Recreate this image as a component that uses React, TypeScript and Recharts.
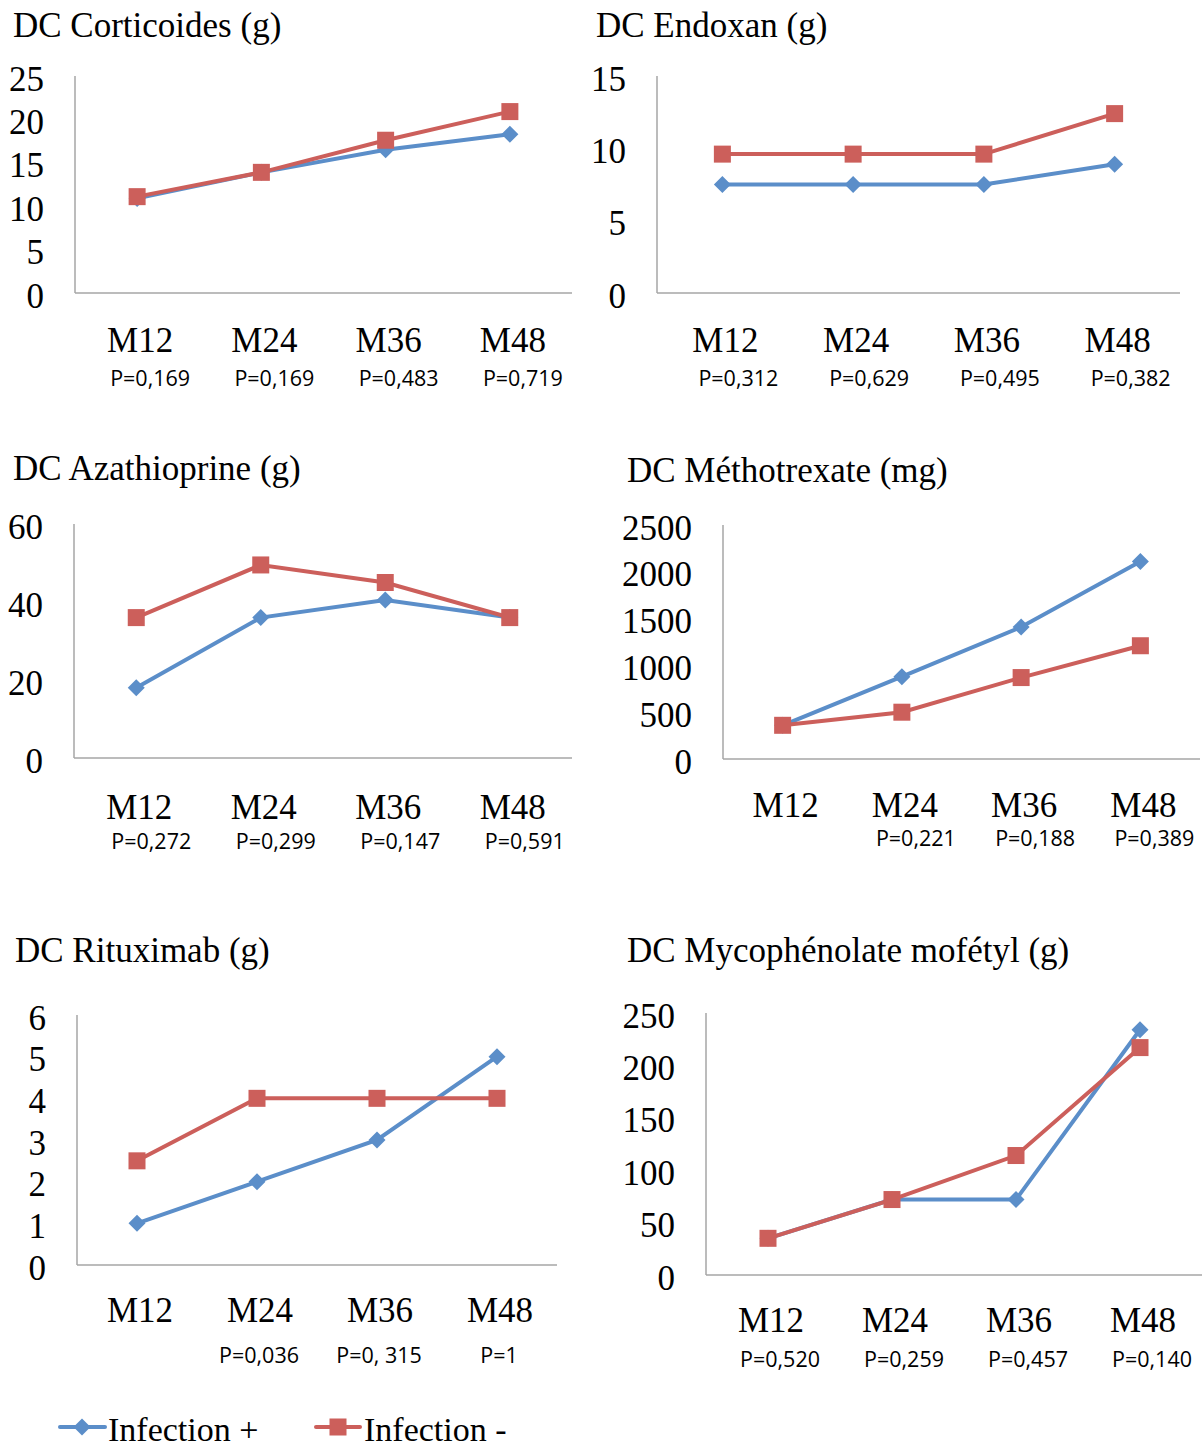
import React from "react";
import { LineChart, Line, XAxis, YAxis } from "recharts";

// shared categories
const months = ["M12", "M24", "M36", "M48"];

// DC Corticoides (g)
const cortPos = [10.9, 13.9, 16.5, 18.3];
const cortNeg = [11.1, 13.9, 17.6, 20.9];
const cortP = ["P=0,169", "P=0,169", "P=0,483", "P=0,719"];
const cortTicks = [0, 5, 10, 15, 20, 25];

// DC Endoxan (g)
const endoPos = [7.5, 7.5, 7.5, 8.9];
const endoNeg = [9.6, 9.6, 9.6, 12.4];
const endoP = ["P=0,312", "P=0,629", "P=0,495", "P=0,382"];
const endoTicks = [0, 5, 10, 15];

// DC Azathioprine (g)
const azaPos = [18, 36, 40.5, 36];
const azaNeg = [36, 49.5, 45, 36];
const azaP = ["P=0,272", "P=0,299", "P=0,147", "P=0,591"];
const azaTicks = [0, 20, 40, 60];

// DC Méthotrexate (mg)
const mtxPos = [360, 880, 1410, 2110];
const mtxNeg = [360, 500, 870, 1210];
const mtxP = ["", "P=0,221", "P=0,188", "P=0,389"];
const mtxTicks = [0, 500, 1000, 1500, 2000, 2500];

// DC Rituximab (g)
const rtxPos = [1, 2, 3, 5];
const rtxNeg = [2.5, 4, 4, 4];
const rtxP = ["", "P=0,036", "P=0, 315", "P=1"];
const rtxTicks = [0, 1, 2, 3, 4, 5, 6];

// DC Mycophénolate mofétyl (g)
const mmfPos = [35, 72, 72, 234];
const mmfNeg = [35, 72, 114, 217];
const mmfP = ["P=0,520", "P=0,259", "P=0,457", "P=0,140"];
const mmfTicks = [0, 50, 100, 150, 200, 250];

const seriesNames = ["Infection +", "Infection -"];

const BLUE = "#5b8ec9";
const RED = "#cc5f5b";
const AXIS = "#a6a6a6";
const SERIF = '"Liberation Serif", "Times New Roman", serif';
const SANS = '"Open Sans", "Liberation Sans", sans-serif';
const FS = 35;

function Diamond(props: any) {
  const { cx, cy, index } = props;
  if (cx == null || cy == null) return null;
  const r = 8.5;
  return (
    <path
      key={`dia-${index}`}
      d={`M${cx},${cy - r}L${cx + r},${cy}L${cx},${cy + r}L${cx - r},${cy}Z`}
      fill={BLUE}
    />
  );
}

function Square(props: any) {
  const { cx, cy, index } = props;
  if (cx == null || cy == null) return null;
  const s = 17;
  return <rect key={`sq-${index}`} x={cx - s / 2} y={cy - s / 2} width={s} height={s} fill={RED} />;
}

const panels = [
  { title: "DC Corticoides (g)", pos: cortPos, neg: cortNeg, pv: cortP, ticks: cortTicks,
    left: 0, x0: 75, y0: 76, x1: 572, y1: 293, tx: 13, tb: 37, mDy: 47, pDx: 13, pDy: 84 },
  { title: "DC Endoxan (g)", pos: endoPos, neg: endoNeg, pv: endoP, ticks: endoTicks,
    left: 590, x0: 657, y0: 76, x1: 1180, y1: 293, tx: 596, tb: 37, mDy: 47, pDx: 16, pDy: 84 },
  { title: "DC Azathioprine (g)", pos: azaPos, neg: azaNeg, pv: azaP, ticks: azaTicks,
    left: 0, x0: 74, y0: 524, x1: 572, y1: 758, tx: 13, tb: 480, mDy: 49, pDx: 15, pDy: 82 },
  { title: "DC Méthotrexate (mg)", pos: mtxPos, neg: mtxNeg, pv: mtxP, ticks: mtxTicks,
    left: 600, x0: 723, y0: 525, x1: 1200, y1: 759, tx: 627, tb: 482, mDy: 46, pDx: 14, pDy: 78 },
  { title: "DC Rituximab (g)", pos: rtxPos, neg: rtxNeg, pv: rtxP, ticks: rtxTicks,
    left: 0, x0: 77, y0: 1015, x1: 557, y1: 1265, tx: 15, tb: 962, mDy: 45, pDx: 2, pDy: 89 },
  { title: "DC Mycophénolate mofétyl (g)", pos: mmfPos, neg: mmfNeg, pv: mmfP, ticks: mmfTicks,
    left: 600, x0: 706, y0: 1013, x1: 1202, y1: 1275, tx: 627, tb: 962, mDy: 45, pDx: 12, pDy: 83 },
];

function Panel({ p }: { p: (typeof panels)[number] }) {
  const topPad = 20;
  const bottom = 110;
  const rightPad = 2;
  const width = p.x1 - p.left + rightPad;
  const height = p.y1 - p.y0 + topPad + bottom;
  const band = (p.x1 - p.x0) / months.length;
  const data = months.map((m, i) => ({ month: m, pos: p.pos[i], neg: p.neg[i] }));
  const top = p.ticks[p.ticks.length - 1];

  const xTick = (props: any) => {
    const { x, y, payload, index } = props;
    return (
      <g key={`xt-${index}`}>
        <text x={x + 3} y={y + p.mDy} textAnchor="middle" dominantBaseline="central"
          fontFamily={SERIF} fontSize={FS} fill="#000">
          {payload.value}
        </text>
        <text x={x + p.pDx} y={y + p.pDy} textAnchor="middle" dominantBaseline="central"
          fontFamily={SANS} fontSize={21.5} fill="#000">
          {p.pv[index]}
        </text>
      </g>
    );
  };

  const yTick = (props: any) => {
    const { x, y, payload, index } = props;
    return (
      <text key={`yt-${index}`} x={x} y={y + 3} textAnchor="end" dominantBaseline="central"
        fontFamily={SERIF} fontSize={FS} fill="#000">
        {payload.value}
      </text>
    );
  };

  return (
    <>
      <div style={{ position: "absolute", left: p.tx, top: p.tb - 29, fontFamily: SERIF,
        fontSize: FS, lineHeight: `${FS}px`, whiteSpace: "nowrap", color: "#000" }}>
        {p.title}
      </div>
      <div style={{ position: "absolute", left: p.left, top: p.y0 - topPad }}>
        <LineChart width={width} height={height} data={data}
          margin={{ top: topPad, right: rightPad, left: 0, bottom: 0 }}>
          <XAxis dataKey="month" height={bottom} interval={0} tickLine={false}
            tickSize={0} tickMargin={0} padding={{ left: band / 2, right: band / 2 }}
            axisLine={{ stroke: AXIS, strokeWidth: 1.5 }} tick={xTick} />
          <YAxis width={p.x0 - p.left} domain={[0, top]} ticks={p.ticks} interval={0}
            tickLine={false} tickSize={0} tickMargin={31}
            axisLine={{ stroke: AXIS, strokeWidth: 1.5 }} tick={yTick} />
          <Line dataKey="pos" name={seriesNames[0]} stroke={BLUE} strokeWidth={4}
            dot={Diamond} activeDot={false} isAnimationActive={false} />
          <Line dataKey="neg" name={seriesNames[1]} stroke={RED} strokeWidth={4}
            dot={Square} activeDot={false} isAnimationActive={false} />
        </LineChart>
      </div>
    </>
  );
}

function SharedLegend() {
  return (
    <svg style={{ position: "absolute", left: 0, top: 1402 }} width={560} height={45}>
      <line x1={60} y1={25} x2={105} y2={25} stroke={BLUE} strokeWidth={4} strokeLinecap="round" />
      <path d="M82,16.5L90.5,25L82,33.5L73.5,25Z" fill={BLUE} />
      <text x={108} y={27} dominantBaseline="central" fontFamily={SERIF} fontSize={34} fill="#000">
        {seriesNames[0]}
      </text>
      <line x1={316} y1={25} x2={360} y2={25} stroke={RED} strokeWidth={4} strokeLinecap="round" />
      <rect x={329.5} y={16.5} width={17} height={17} fill={RED} />
      <text x={364} y={27} dominantBaseline="central" fontFamily={SERIF} fontSize={34} fill="#000">
        {seriesNames[1]}
      </text>
    </svg>
  );
}

export default function App() {
  return (
    <div style={{ position: "absolute", left: 0, top: 0, width: 1204, height: 1447, background: "#fff", overflow: "hidden" }}>
      {panels.map((p) => (
        <Panel key={p.title} p={p} />
      ))}
      <SharedLegend />
    </div>
  );
}
